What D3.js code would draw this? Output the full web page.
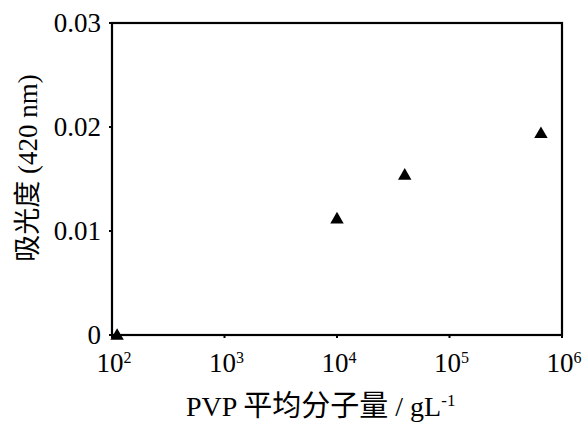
<!DOCTYPE html>
<html>
<head>
<meta charset="utf-8">
<script src="https://cdn.jsdelivr.net/npm/d3@7"></script>
<style>
  body { margin: 0; background: #fff; }
  text { font-family: "Liberation Serif", "Times New Roman", serif; fill: #000; }
  .cjk { font-family: "Noto Sans CJK SC", sans-serif; }
</style>
</head>
<body>
<svg id="chart" width="585" height="424"></svg>
<script>
// data
const mwValues = [111, 10000, 40000, 650000];
const absValues = [0, 0.0112, 0.0154, 0.0194];
const xTickExps = [2, 3, 4, 5, 6];
const yTicks = [0, 0.01, 0.02, 0.03];

const svg = d3.select("#chart");
const margin = { left: 112, right: 23, top: 23, bottom: 89 };
const width = 585 - margin.left - margin.right;
const height = 424 - margin.top - margin.bottom;

const x = d3.scaleLog().domain([100, 1e6]).range([margin.left, margin.left + width]);
const y = d3.scaleLinear().domain([0, 0.03]).range([margin.top + height, margin.top]);

// frame
svg.append("rect")
    .attr("x", margin.left)
    .attr("y", margin.top)
    .attr("width", width)
    .attr("height", height)
    .attr("fill", "none")
    .attr("stroke", "#000")
    .attr("stroke-width", 2.2);

// x ticks
const xt = svg.append("g");
xTickExps.forEach(e => {
    const px = x(Math.pow(10, e));
    xt.append("line")
        .attr("x1", px).attr("x2", px)
        .attr("y1", margin.top + height).attr("y2", margin.top + height + 3)
        .attr("stroke", "#000").attr("stroke-width", 2);
    const t = xt.append("text")
        .attr("x", px + 2)
        .attr("y", 372)
        .attr("text-anchor", "middle")
        .style("font-size", "27px");
    t.append("tspan").text("10");
    t.append("tspan").attr("dy", -9).style("font-size", "16px").text(e);
});

// y ticks
const yt = svg.append("g");
yTicks.forEach(v => {
    const py = y(v);
    yt.append("line")
        .attr("x1", margin.left - 3).attr("x2", margin.left)
        .attr("y1", py).attr("y2", py)
        .attr("stroke", "#000").attr("stroke-width", 2);
    yt.append("text")
        .attr("x", margin.left - 11)
        .attr("y", py)
        .attr("dy", "0.33em")
        .attr("text-anchor", "end")
        .style("font-size", "27px")
        .text(v === 0 ? "0" : v.toFixed(2));
});

// markers
svg.selectAll("path.pt")
    .data(mwValues.map((m, i) => ({ m, a: absValues[i] })))
    .enter()
    .append("path")
    .attr("class", "pt")
    .attr("d", d3.symbol().type(d3.symbolTriangle).size(78))
    .attr("transform", d => `translate(${x(d.m)},${y(d.a) + 1})`)
    .attr("fill", "#000");

// x title
const xTitle = svg.append("text")
    .attr("x", 186)
    .attr("y", 416)
    .style("font-size", "28px");
xTitle.append("tspan").text("PVP ");
xTitle.append("tspan").attr("class", "cjk").style("font-size", "29px").text("平均分子量");
xTitle.append("tspan").text(" / gL");
xTitle.append("tspan").attr("dy", -10).style("font-size", "17px").text("-1");

// y title
const yTitle = svg.append("text")
    .attr("transform", "translate(37,168) rotate(-90)")
    .attr("text-anchor", "middle")
    .style("font-size", "27px");
yTitle.append("tspan").attr("class", "cjk").text("吸光度");
yTitle.append("tspan").text(" (420 nm)");
</script>
</body>
</html>
